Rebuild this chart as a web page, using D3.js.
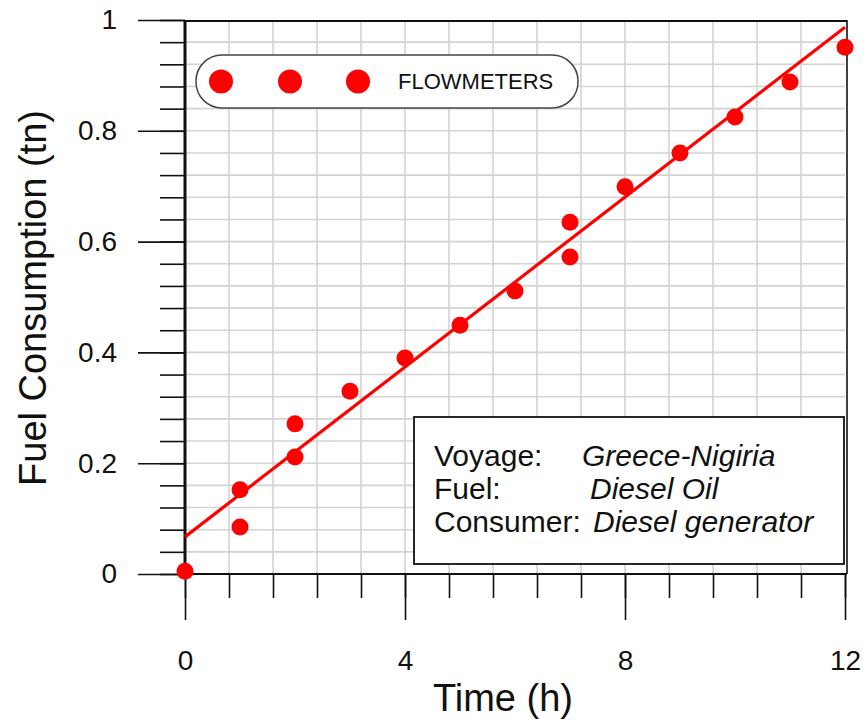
<!DOCTYPE html>
<html><head><meta charset="utf-8">
<script src="https://cdn.jsdelivr.net/npm/d3@7"></script>
<style>body{margin:0;background:#fff}svg{display:block;font-family:"Liberation Sans",Arial,sans-serif}</style>
</head><body><svg id="c" width="866" height="722"></svg>
<script>
const timeH = [0, 1, 1, 2, 2, 3, 4, 5, 6, 7, 7, 8, 9, 10, 11, 12];
const fuelTn = [0.005, 0.152, 0.085, 0.211, 0.271, 0.330, 0.390, 0.449, 0.511, 0.572, 0.635, 0.699, 0.760, 0.825, 0.888, 0.951];
const fitX = [0, 12];
const fitY = [0.067, 0.987];
const xTickLabels = [0, 4, 8, 12];
const yTickLabels = [0, 0.2, 0.4, 0.6, 0.8, 1];
const legendLabel = "FLOWMETERS";
const infoKeys = ["Voyage:", "Fuel:", "Consumer:"];
const infoVals = ["Greece-Nigiria", "Diesel Oil", "Diesel generator"];

const svg = d3.select("#c");
const L = 185, R = 845, T = 20, B = 574;
const x = d3.scaleLinear().domain([0, 12]).range([L, R]);
const y = d3.scaleLinear().domain([0, 1]).range([B, T]);
const FONT = "Liberation Sans, Arial, sans-serif";

// grid
const gx = d3.range(1, 15).map(i => i * 0.8).filter(v => v < 12);
const gy = d3.range(1, 25).map(i => i * 0.04);
svg.append("g").selectAll("line").data(gx).join("line")
  .attr("x1", d => x(d)).attr("x2", d => x(d)).attr("y1", T).attr("y2", B)
  .attr("stroke", "#d3d3d3").attr("stroke-width", 1.6);
svg.append("g").selectAll("line").data(gy).join("line")
  .attr("x1", L).attr("x2", R).attr("y1", d => y(d)).attr("y2", d => y(d))
  .attr("stroke", "#d3d3d3").attr("stroke-width", 1.6);

// axes
const xMinor = d3.range(0, 16).map(i => i * 0.8).filter(v => v <= 12.01);
svg.append("g").attr("transform", `translate(0,${B})`)
  .call(d3.axisBottom(x).tickValues(xMinor).tickSize(24).tickFormat(""))
  .call(g => g.select(".domain").remove())
  .call(g => g.selectAll("line").attr("stroke", "#111").attr("stroke-width", 1.6));
svg.append("g").attr("transform", `translate(0,${B})`)
  .call(d3.axisBottom(x).tickValues(xTickLabels).tickSize(46).tickPadding(30).tickFormat(d3.format("d")))
  .call(g => g.select(".domain").remove())
  .call(g => g.selectAll("line").attr("stroke", "#111").attr("stroke-width", 1.6))
  .call(g => g.selectAll("text").attr("font-size", 28).attr("fill", "#111").attr("font-family", FONT));

const yMinor = d3.range(0, 26).map(i => i * 0.04);
svg.append("g").attr("transform", `translate(${L},0)`)
  .call(d3.axisLeft(y).tickValues(yMinor).tickSize(25).tickFormat(""))
  .call(g => g.select(".domain").remove())
  .call(g => g.selectAll("line").attr("stroke", "#111").attr("stroke-width", 1.6));
svg.append("g").attr("transform", `translate(${L},0)`)
  .call(d3.axisLeft(y).tickValues(yTickLabels).tickSize(47).tickPadding(21).tickFormat(d => d === 0 || d === 1 ? d3.format("d")(d) : d3.format(".1f")(d)))
  .call(g => g.select(".domain").remove())
  .call(g => g.selectAll("line").attr("stroke", "#111").attr("stroke-width", 1.6))
  .call(g => g.selectAll("text").attr("font-size", 28).attr("fill", "#111").attr("font-family", FONT));

// frame
svg.append("line").attr("x1", L).attr("x2", R + 2).attr("y1", T + 1).attr("y2", T + 1).attr("stroke", "#111").attr("stroke-width", 2);
svg.append("line").attr("x1", R + 2).attr("x2", R + 2).attr("y1", T).attr("y2", B).attr("stroke", "#111").attr("stroke-width", 1.6);
svg.append("line").attr("x1", L).attr("x2", R + 2).attr("y1", B).attr("y2", B).attr("stroke", "#111").attr("stroke-width", 2);
svg.append("line").attr("x1", L).attr("x2", L).attr("y1", T).attr("y2", B).attr("stroke", "#111").attr("stroke-width", 3);

// fit line
const fit = fitX.map((v, i) => ({x: v, y: fitY[i]}));
svg.append("path").datum(fit)
  .attr("d", d3.line().x(d => x(d.x)).y(d => y(d.y)))
  .attr("stroke", "#ff0000").attr("stroke-width", 3.2).attr("fill", "none");

// points
const pts = timeH.map((t, i) => ({x: t, y: fuelTn[i]}));
svg.append("g").selectAll("circle").data(pts).join("circle")
  .attr("cx", d => x(d.x)).attr("cy", d => y(d.y)).attr("r", 8.5).attr("fill", "#ff0000");

// legend
const lg = svg.append("g");
lg.append("rect").attr("x", 196).attr("y", 55).attr("width", 382).attr("height", 53)
  .attr("rx", 26).attr("ry", 26).attr("fill", "#fff").attr("stroke", "#444").attr("stroke-width", 1.5);
lg.selectAll("circle").data([221, 290, 358]).join("circle")
  .attr("cx", d => d).attr("cy", 81.5).attr("r", 12).attr("fill", "#ff0000");
lg.append("text").attr("x", 398).attr("y", 89).attr("font-size", 22).attr("fill", "#111").text(legendLabel);

// info box
const ib = svg.append("g");
ib.append("rect").attr("x", 414).attr("y", 417).attr("width", 430).attr("height", 147)
  .attr("fill", "#fff").attr("stroke", "#111").attr("stroke-width", 1.8);
const valX = [582, 590, 593];
infoKeys.forEach((k, i) => {
  ib.append("text").attr("x", 434).attr("y", 466 + i * 33).attr("font-size", 30).attr("fill", "#111").text(k);
  ib.append("text").attr("x", valX[i]).attr("y", 466 + i * 33).attr("font-size", 30).attr("font-style", "italic").attr("fill", "#111").text(infoVals[i]);
});

// axis titles
svg.append("text").attr("x", 503).attr("y", 711).attr("text-anchor", "middle").attr("font-size", 38).attr("fill", "#111").text("Time (h)");
svg.append("text").attr("transform", "translate(46,298) rotate(-90)").attr("text-anchor", "middle").attr("font-size", 38).attr("fill", "#111").text("Fuel Consumption (tn)");
</script></body></html>
